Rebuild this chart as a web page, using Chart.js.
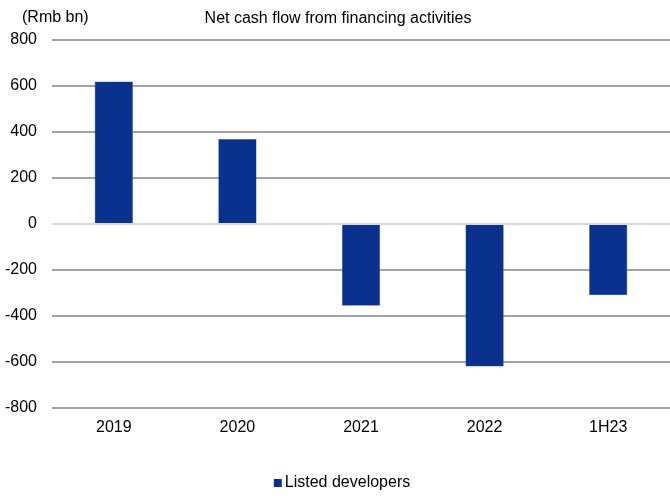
<!DOCTYPE html>
<html>
<head>
<meta charset="utf-8">
<script src="https://cdn.jsdelivr.net/npm/chart.js@4/dist/chart.umd.min.js"></script>
<style>
  html, body { margin: 0; padding: 0; background: #fff; }
  #wrap { width: 670px; height: 496px; position: relative; }
</style>
</head>
<body>
<div id="wrap"><canvas id="chart"></canvas></div>
<script>
// Period labels and net financing cash flow (Rmb bn)
const periods = ['2019', '2020', '2021', '2022', '1H23'];
const netFinancing = [620, 370, -355, -620, -310];
const seriesName = 'Listed developers';
const chartTitle = 'Net cash flow from financing activities';
const unitLabel = '(Rmb bn)';

const barColor = '#0b318f';
const fontFamily = '"Liberation Sans", Arial, sans-serif';
const fontSize = 16;

// Unit label, title and the single-item legend
const annotations = {
    id: 'annotations',
    afterDraw(chart) {
        const ctx = chart.ctx;
        ctx.save();
        ctx.fillStyle = '#000';
        ctx.font = fontSize + 'px ' + fontFamily;
        ctx.textBaseline = 'alphabetic';
        ctx.textAlign = 'left';
        ctx.fillText(unitLabel, 22, 22);
        ctx.textAlign = 'center';
        ctx.fillText(chartTitle, 338, 23);

        // legend: square swatch followed by the series name
        const ds = chart.data.datasets[0];
        const box = 8, gap = 3;
        const textW = ctx.measureText(ds.label).width;
        const startX = 342 - (box + gap + textW) / 2;
        ctx.fillStyle = ds.backgroundColor;
        ctx.fillRect(startX, 479, box, box);
        ctx.fillStyle = '#000';
        ctx.textAlign = 'left';
        ctx.fillText(ds.label, startX + box + gap, 487);
        ctx.restore();
    }
};

new Chart(document.getElementById('chart'), {
    type: 'bar',
    data: {
        labels: periods,
        datasets: [{
            label: seriesName,
            data: netFinancing,
            backgroundColor: barColor,
            borderColor: '#3a5fb0',
            borderWidth: 0.5,
            barPercentage: 0.31,
            categoryPercentage: 1.0
        }]
    },
    options: {
        responsive: true,
        maintainAspectRatio: false,
        animation: false,
        layout: { padding: { top: 40, left: 0, right: 0, bottom: 58 } },
        plugins: {
            title: { display: false },
            tooltip: { enabled: false },
            legend: { display: false }
        },
        scales: {
            x: {
                afterFit(scale) { scale.height = 30; },
                grid: { display: false, drawTicks: false },
                border: { display: false },
                ticks: {
                    color: '#000',
                    font: { family: fontFamily, size: fontSize },
                    padding: 10
                }
            },
            y: {
                min: -800,
                max: 800,
                afterFit(scale) { scale.width = 52; },
                grid: {
                    drawTicks: false,
                    lineWidth: 2,
                    color: c => (c.tick && c.tick.value === 0) ? '#d9d9d9' : '#a3a3a3'
                },
                border: { display: false },
                ticks: {
                    stepSize: 200,
                    color: '#000',
                    font: { family: fontFamily, size: fontSize },
                    padding: 15
                }
            }
        }
    },
    plugins: [annotations]
});
</script>
</body>
</html>
